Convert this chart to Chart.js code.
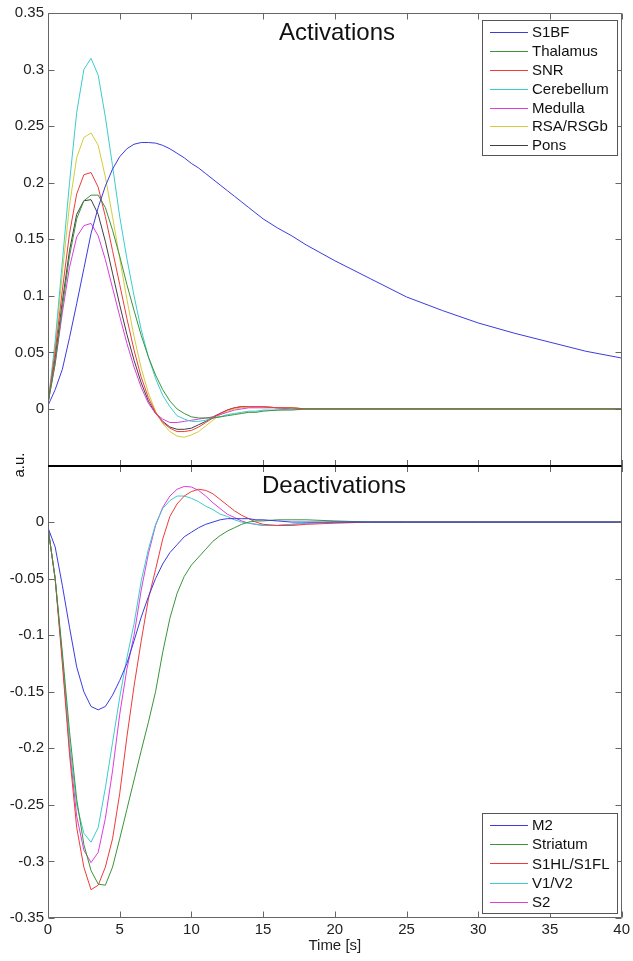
<!DOCTYPE html>
<html>
<head>
<meta charset="utf-8">
<script src="https://cdn.jsdelivr.net/npm/chart.js@4.4.1/dist/chart.umd.min.js"></script>
<style>
  html, body { margin: 0; padding: 0; background: #fff; }
  canvas { display: block; }
</style>
</head>
<body>
<canvas id="chart-hrf" width="633" height="961"></canvas>
<script>
// time axis [s]
const time = [
  0, 0.5, 1, 1.5, 2, 2.5, 3, 3.5, 4, 4.5,
  5, 5.5, 6, 6.5, 7, 7.5, 8, 8.5, 9, 9.5,
  10, 10.5, 11, 11.5, 12, 12.5, 13, 13.5, 14, 14.5,
  15, 16, 17, 18, 20,
  22.5, 25, 27.5, 30, 32.5, 35, 37.5, 40,
];

const xTicks = [0, 5, 10, 15, 20, 25, 30, 35, 40];
const activationTicks = [0, 0.05, 0.1, 0.15, 0.2, 0.25, 0.3, 0.35];
const deactivationTicks = [-0.35, -0.3, -0.25, -0.2, -0.15, -0.1, -0.05, 0];

// activations
const s1bf = [
  0.003, 0.017, 0.035, 0.063, 0.093, 0.124, 0.155, 0.178, 0.197, 0.212,
  0.223, 0.23, 0.234, 0.2355, 0.2355, 0.235, 0.233, 0.23, 0.226, 0.222,
  0.217, 0.213, 0.208, 0.203, 0.198, 0.193, 0.188, 0.183, 0.178, 0.173,
  0.168, 0.16, 0.153, 0.145, 0.131,
  0.115, 0.099, 0.087, 0.076, 0.067, 0.059, 0.051, 0.045,
];
const thalamus = [
  0.005, 0.04, 0.09, 0.135, 0.168, 0.184, 0.189, 0.189, 0.178, 0.158,
  0.135, 0.11, 0.087, 0.065, 0.046, 0.03, 0.017, 0.007, 0, -0.004,
  -0.007, -0.008, -0.008, -0.008, -0.007, -0.006, -0.005, -0.004, -0.003, -0.003,
  -0.002, -0.001, -0.001, 0, 0,
  0, 0, 0, 0, 0, 0, 0, 0,
];
const snr = [
  0.005, 0.05, 0.105, 0.155, 0.19, 0.207, 0.209, 0.196, 0.17, 0.14,
  0.11, 0.08, 0.052, 0.028, 0.01, -0.003, -0.012, -0.017, -0.02, -0.02,
  -0.019, -0.016, -0.012, -0.008, -0.004, -0.001, 0.001, 0.002, 0.002, 0.002,
  0.002, 0.001, 0.001, 0, 0,
  0, 0, 0, 0, 0, 0, 0, 0,
];
const cerebellum = [
  0.005, 0.06, 0.13, 0.2, 0.262, 0.3, 0.31, 0.295, 0.258, 0.215,
  0.17, 0.133, 0.1, 0.07, 0.046, 0.027, 0.012, 0.002, -0.006, -0.009,
  -0.011, -0.011, -0.01, -0.008, -0.007, -0.005, -0.004, -0.003, -0.002, -0.002,
  -0.001, -0.001, 0, 0, 0,
  0, 0, 0, 0, 0, 0, 0, 0,
];
const medulla = [
  0.005, 0.04, 0.085, 0.125, 0.152, 0.162, 0.164, 0.153, 0.132, 0.107,
  0.082, 0.058, 0.037, 0.019, 0.005, -0.004, -0.009, -0.012, -0.012, -0.011,
  -0.01, -0.009, -0.008, -0.007, -0.005, -0.003, -0.001, 0, 0.001, 0.001,
  0.001, 0.001, 0, 0, 0,
  0, 0, 0, 0, 0, 0, 0, 0,
];
const rsa = [
  0.005, 0.055, 0.12, 0.18, 0.222, 0.24, 0.244, 0.233, 0.205, 0.17,
  0.133, 0.097, 0.064, 0.036, 0.014, -0.002, -0.013, -0.02, -0.024, -0.025,
  -0.023, -0.02, -0.015, -0.01, -0.005, -0.002, 0, 0.001, 0.002, 0.002,
  0.002, 0.001, 0.001, 0, 0,
  0, 0, 0, 0, 0, 0, 0, 0,
];
const pons = [
  0.005, 0.045, 0.095, 0.14, 0.172, 0.184, 0.185, 0.172, 0.148, 0.12,
  0.092, 0.066, 0.043, 0.023, 0.007, -0.004, -0.011, -0.016, -0.018, -0.018,
  -0.017, -0.014, -0.011, -0.007, -0.004, -0.001, 0.001, 0.002, 0.002, 0.002,
  0.002, 0.001, 0.001, 0, 0,
  0, 0, 0, 0, 0, 0, 0, 0,
];

// deactivations
const m2 = [
  -0.005, -0.022, -0.056, -0.093, -0.128, -0.15, -0.163, -0.166, -0.163, -0.153,
  -0.14, -0.125, -0.105, -0.084, -0.066, -0.05, -0.037, -0.027, -0.02, -0.013,
  -0.009, -0.005, -0.002, 0, 0.002, 0.003, 0.003, 0.003, 0.003, 0.002,
  0.002, 0.001, 0, 0, 0,
  0, 0, 0, 0, 0, 0, 0, 0,
];
const striatum = [
  -0.005, -0.05, -0.115, -0.185, -0.245, -0.285, -0.308, -0.32, -0.321, -0.305,
  -0.28, -0.254, -0.228, -0.202, -0.177, -0.15, -0.115, -0.085, -0.063, -0.048,
  -0.038, -0.031, -0.024, -0.017, -0.012, -0.008, -0.005, -0.002, 0, 0.001,
  0.001, 0.002, 0.002, 0.002, 0.001,
  0, 0, 0, 0, 0, 0, 0, 0,
];
const s1hl = [
  -0.005, -0.05, -0.125, -0.205, -0.27, -0.305, -0.325, -0.321, -0.305, -0.28,
  -0.24, -0.19, -0.145, -0.105, -0.068, -0.042, -0.015, 0.005, 0.016, 0.023,
  0.027, 0.029, 0.028, 0.025, 0.02, 0.015, 0.01, 0.006, 0.003, 0,
  -0.002, -0.003, -0.003, -0.002, -0.001,
  0, 0, 0, 0, 0, 0, 0, 0,
];
const v1v2 = [
  -0.005, -0.05, -0.12, -0.195, -0.25, -0.275, -0.283, -0.27, -0.235, -0.195,
  -0.155, -0.12, -0.09, -0.052, -0.024, -0.002, 0.012, 0.019, 0.023, 0.023,
  0.021, 0.018, 0.014, 0.011, 0.007, 0.005, 0.002, 0, -0.001, -0.002,
  -0.003, -0.003, -0.002, -0.001, 0,
  0, 0, 0, 0, 0, 0, 0, 0,
];
const s2 = [
  -0.005, -0.05, -0.12, -0.2, -0.26, -0.29, -0.301, -0.292, -0.262, -0.22,
  -0.17, -0.13, -0.1, -0.06, -0.028, -0.003, 0.013, 0.023, 0.029, 0.0315,
  0.031, 0.028, 0.023, 0.017, 0.012, 0.007, 0.004, 0.001, -0.001, -0.002,
  -0.003, -0.003, -0.002, -0.001, 0,
  0, 0, 0, 0, 0, 0, 0, 0,
];

const BLUE = "#3b3be0";
const GREEN = "#3a943a";
const RED = "#f03a3a";
const CYAN = "#3ccccc";
const MAGENTA = "#dd3ddd";
const YELLOW = "#d4cc3a";
const DARK = "#404040";

function series(label, values, color, axis) {
  return {
    label: label,
    data: values.map((v, i) => ({ x: time[i], y: v })),
    borderColor: color,
    backgroundColor: color,
    borderWidth: 1,
    pointRadius: 0,
    tension: 0,
    fill: false,
    yAxisID: axis,
  };
}

const fontFamily = "'Liberation Sans', Arial, sans-serif";
Chart.defaults.font.family = fontFamily;

// frame, inward ticks, panel titles, legends, shared y label
const panelDecor = {
  id: "panelDecor",
  afterDatasetsDraw(chart) {
    const { ctx, chartArea: area, scales } = chart;
    const x = scales.x;
    const yTop = scales.yTop;
    const yBot = scales.yBot;
    const sep = Math.round(yTop.bottom);
    const tick = 6;

    ctx.save();
    ctx.lineWidth = 1;
    ctx.strokeStyle = "#666";
    ctx.beginPath();
    const L = Math.round(area.left) + 0.5;
    const R = Math.round(area.right) - 0.5;
    const T = Math.round(area.top) + 0.5;
    const B = Math.round(area.bottom) - 0.5;
    ctx.moveTo(L, T); ctx.lineTo(R, T); ctx.lineTo(R, B); ctx.lineTo(L, B); ctx.closePath();

    xTicks.forEach((v) => {
      const px = Math.round(x.getPixelForValue(v)) + 0.5;
      ctx.moveTo(px, T); ctx.lineTo(px, T + tick);
      ctx.moveTo(px, sep); ctx.lineTo(px, sep - tick);
      ctx.moveTo(px, sep); ctx.lineTo(px, sep + tick);
      ctx.moveTo(px, B); ctx.lineTo(px, B - tick);
    });
    activationTicks.forEach((v) => {
      const py = Math.round(yTop.getPixelForValue(v)) + 0.5;
      ctx.moveTo(L, py); ctx.lineTo(L + tick, py);
      ctx.moveTo(R, py); ctx.lineTo(R - tick, py);
    });
    deactivationTicks.forEach((v) => {
      const py = Math.round(yBot.getPixelForValue(v)) + 0.5;
      ctx.moveTo(L, py); ctx.lineTo(L + tick, py);
      ctx.moveTo(R, py); ctx.lineTo(R - tick, py);
    });
    ctx.stroke();

    // black separator between the panels
    ctx.strokeStyle = "#000";
    ctx.lineWidth = 2;
    ctx.beginPath();
    ctx.moveTo(area.left, sep);
    ctx.lineTo(area.right, sep);
    ctx.stroke();

    // panel titles
    ctx.fillStyle = "#111";
    ctx.font = "24px " + fontFamily;
    ctx.textAlign = "center";
    ctx.textBaseline = "alphabetic";
    ctx.fillText("Activations", 337, 40);
    ctx.fillText("Deactivations", 334, 493);

    // shared y label
    ctx.save();
    ctx.translate(20, 465);
    ctx.rotate(-Math.PI / 2);
    ctx.font = "15px " + fontFamily;
    ctx.textBaseline = "middle";
    ctx.fillText("a.u.", 0, 0);
    ctx.restore();

    // legends
    const drawLegend = (axis, box, rowTop, rowStep) => {
      const sets = chart.data.datasets.filter((d) => d.yAxisID === axis);
      ctx.fillStyle = "#fff";
      ctx.fillRect(box.x, box.y, box.w, box.h);
      ctx.strokeStyle = "#555";
      ctx.lineWidth = 1;
      ctx.strokeRect(box.x + 0.5, box.y + 0.5, box.w, box.h);
      ctx.font = "15px " + fontFamily;
      ctx.textAlign = "left";
      ctx.textBaseline = "middle";
      sets.forEach((d, i) => {
        const cy = rowTop + i * rowStep;
        ctx.strokeStyle = d.borderColor;
        ctx.beginPath();
        ctx.moveTo(box.x + 8, Math.round(cy) + 0.5);
        ctx.lineTo(box.x + 46, Math.round(cy) + 0.5);
        ctx.stroke();
        ctx.fillStyle = "#111";
        ctx.fillText(d.label, box.x + 50, cy + 1);
      });
    };
    drawLegend("yTop", { x: 482, y: 20, w: 135, h: 135 }, 32.3, 18.8);
    drawLegend("yBot", { x: 482, y: 813, w: 135, h: 100 }, 825, 19.2);

    ctx.restore();
  },
};

const tickLabel = (v) => String(Number(v.toFixed(2)));

const ctxHrf = document.getElementById("chart-hrf");

new Chart(ctxHrf, {
  type: "line",
  data: {
    datasets: [
      series("S1BF", s1bf, BLUE, "yTop"),
      series("Thalamus", thalamus, GREEN, "yTop"),
      series("SNR", snr, RED, "yTop"),
      series("Cerebellum", cerebellum, CYAN, "yTop"),
      series("Medulla", medulla, MAGENTA, "yTop"),
      series("RSA/RSGb", rsa, YELLOW, "yTop"),
      series("Pons", pons, DARK, "yTop"),
      series("M2", m2, BLUE, "yBot"),
      series("Striatum", striatum, GREEN, "yBot"),
      series("S1HL/S1FL", s1hl, RED, "yBot"),
      series("V1/V2", v1v2, CYAN, "yBot"),
      series("S2", s2, MAGENTA, "yBot"),
    ],
  },
  options: {
    responsive: false,
    animation: false,
    devicePixelRatio: 1,
    layout: { padding: { top: 13, right: 10, left: 0, bottom: 0 } },
    plugins: {
      legend: { display: false },
      tooltip: { enabled: false },
    },
    scales: {
      x: {
        type: "linear",
        position: "bottom",
        min: 0,
        max: 40,
        afterBuildTicks: (scale) => { scale.ticks = xTicks.map((v) => ({ value: v })); },
        afterFit: (scale) => { scale.height = 43; },
        grid: { display: false, drawTicks: false },
        border: { display: false },
        ticks: { font: { size: 15 }, color: "#222", padding: 3, maxRotation: 0 },
        title: {
          display: true,
          text: "Time [s]",
          font: { size: 15 },
          color: "#222",
          padding: { top: 0, bottom: 6 },
        },
      },
      yBot: {
        type: "linear",
        position: "left",
        stack: "panels",
        stackWeight: 1,
        min: -0.35,
        max: 0.05,
        afterBuildTicks: (scale) => { scale.ticks = deactivationTicks.map((v) => ({ value: v })); },
        afterFit: (scale) => { scale.width = 48; },
        grid: { display: false, drawTicks: false },
        border: { display: false },
        ticks: { font: { size: 15 }, color: "#222", padding: 4, callback: tickLabel },
      },
      yTop: {
        type: "linear",
        position: "left",
        stack: "panels",
        stackWeight: 1,
        min: -0.05,
        max: 0.35,
        afterBuildTicks: (scale) => { scale.ticks = activationTicks.map((v) => ({ value: v })); },
        afterFit: (scale) => { scale.width = 48; },
        grid: { display: false, drawTicks: false },
        border: { display: false },
        ticks: { font: { size: 15 }, color: "#222", padding: 4, callback: tickLabel },
      },
    },
  },
  plugins: [panelDecor],
});
</script>
</body>
</html>
